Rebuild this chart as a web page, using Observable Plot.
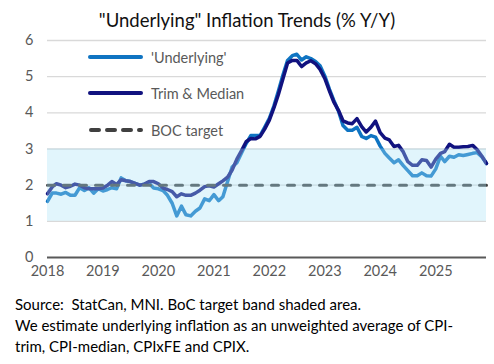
<!DOCTYPE html>
<html><head><meta charset="utf-8">
<script src="https://cdn.jsdelivr.net/npm/d3@7"></script>
<script src="https://cdn.jsdelivr.net/npm/@observablehq/plot@0.6"></script>
<style>
body{margin:0;background:#fff;font-family:Lato,"Noto Sans",sans-serif;}
#wrap{position:relative;width:494px;height:364px;overflow:hidden;background:#fff}
#title{position:absolute;top:8px;left:0;width:494px;text-align:center;font-size:18.5px;color:#111;line-height:24px}
#chart{position:absolute;top:0;left:0}
.leg{position:absolute;left:88px;height:20px;display:flex;align-items:center;font-size:14.5px;color:#595959;white-space:nowrap}
.leg svg{margin-right:5px}
#caption{position:absolute;left:15px;top:294px;font-size:15px;line-height:21px;color:#000;white-space:nowrap}
</style></head>
<body>
<div id="wrap">
  <div id="chart"></div>
  <div id="title">"Underlying" Inflation Trends (% Y/Y)</div>
  <div id="legend"></div>
  <div id="caption">Source:&nbsp; StatCan, MNI. BoC target band shaded area.<br>We estimate underlying inflation as an unweighted average of CPI-<br>trim, CPI-median, CPIxFE and CPIX.</div>
</div>
<script>
// Monthly, Jan 2018 .. Dec 2025
const underlying = [
 1.55,1.78,1.78,1.75,1.80,1.72,1.72,1.93,1.85,1.93,1.78,1.90,
 1.84,1.88,1.93,1.90,2.20,2.12,2.10,2.05,2.00,2.03,2.05,1.92,
 1.90,1.85,1.72,1.50,1.15,1.42,1.18,1.15,1.28,1.37,1.62,1.57,
 1.74,1.57,1.68,2.10,2.50,2.62,2.88,3.15,3.37,3.37,3.37,3.60,
 3.85,4.20,4.60,5.05,5.45,5.58,5.62,5.46,5.55,5.50,5.42,5.30,
 5.02,4.65,4.35,4.05,3.65,3.52,3.52,3.60,3.35,3.29,3.37,3.33,
 3.08,2.88,2.75,2.62,2.70,2.54,2.40,2.26,2.26,2.34,2.26,2.25,
 2.45,2.80,2.65,2.80,2.77,2.84,2.82,2.85,2.88,2.90,2.78,2.60
];
const trimMedian = [
 1.76,1.95,2.04,2.00,1.93,1.97,2.03,2.00,1.93,1.90,1.90,1.90,
 1.92,2.00,2.10,2.02,2.15,2.12,2.10,2.05,2.00,2.03,2.10,2.10,
 2.04,1.92,1.88,1.82,1.68,1.76,1.72,1.72,1.78,1.86,1.96,1.98,
 1.95,2.04,2.12,2.22,2.42,2.72,2.95,3.20,3.29,3.28,3.35,3.55,
 3.80,4.15,4.50,4.95,5.38,5.45,5.45,5.28,5.38,5.44,5.36,5.20,
 4.95,4.60,4.30,4.07,3.78,3.72,3.70,3.84,3.62,3.47,3.60,3.77,
 3.45,3.30,3.25,3.07,3.10,2.92,2.65,2.55,2.55,2.70,2.68,2.50,
 2.72,2.88,2.93,3.13,3.05,3.05,3.06,3.07,3.10,2.98,2.80,2.60
];
const seriesNames = ["'Underlying'", "Trim & Median", "BOC target"];
const targetRate = [2];
const targetBand = [1, 3];
const yearLabels = [2018,2019,2020,2021,2022,2023,2024,2025];
const yTicks = [0,1,2,3,4,5,6];
const colors = {u:"#0F74C2", tm:"#11127F", target:"#404040"};

const months = d3.utcMonth.range(new Date(Date.UTC(2018,0,1)), new Date(Date.UTC(2026,0,1)));
const rows = months.map((d,i)=>({date:d, u:underlying[i], tm:trimMedian[i]}));
const first = months[0], last = months[months.length-1];
const band = [{x1:first, x2:last, y1:targetBand[0], y2:targetBand[1]}];
const target = [{date:first, v:targetRate[0]}, {date:last, v:targetRate[0]}];
const yearTicks = yearLabels.map(y=>new Date(Date.UTC(y,0,1)));

const plot = Plot.plot({
  width:494, height:285,
  marginLeft:47, marginRight:8, marginTop:40, marginBottom:28,
  style:{fontFamily:'Lato,"Noto Sans",sans-serif', fontSize:"14.5px", color:"#595959", background:"transparent", overflow:"visible"},
  x:{type:"utc", domain:[first,last], ticks:yearTicks, tickFormat:d=>String(d.getUTCFullYear()), tickSize:0, tickPadding:8, label:null},
  y:{domain:[0,6], ticks:yTicks, tickFormat:d=>String(d), tickSize:0, tickPadding:14, label:null},
  marks:[
    Plot.ruleY(yTicks.filter(v=>v>0), {stroke:"#D9D9D9", strokeWidth:1.3}),
    Plot.lineY(rows, {x:"date", y:"u", stroke:colors.u, strokeWidth:3.5, strokeLinejoin:"round"}),
    Plot.lineY(rows, {x:"date", y:"tm", stroke:colors.tm, strokeWidth:3.5, strokeLinejoin:"round"}),
    Plot.line(target, {x:"date", y:"v", stroke:colors.target, strokeWidth:3, strokeDasharray:"7,9", strokeLinecap:"round"}),
    Plot.rect(band, {x1:"x1", x2:"x2", y1:"y1", y2:"y2", fill:"rgb(169,226,246)", fillOpacity:0.35}),
    Plot.ruleY([0], {stroke:"#595959", strokeWidth:2})
  ]
});
document.getElementById("chart").appendChild(plot);

const legendTops = [57, 93, 130];
const legendStrokes = [
  `<line x1="2" y1="5" x2="53" y2="5" stroke="${colors.u}" stroke-width="4" stroke-linecap="round"/>`,
  `<line x1="2" y1="5" x2="53" y2="5" stroke="${colors.tm}" stroke-width="4" stroke-linecap="round"/>`,
  `<line x1="3" y1="5" x2="53" y2="5" stroke="${colors.target}" stroke-width="4" stroke-dasharray="8,8" stroke-linecap="round"/>`
];
const leg = document.getElementById("legend");
seriesNames.forEach((name,i)=>{
  const d = document.createElement("div");
  d.className = "leg";
  d.style.top = (legendTops[i]-10) + "px";
  d.innerHTML = `<svg width="58" height="10">${legendStrokes[i]}</svg><span>${name}</span>`;
  leg.appendChild(d);
});
</script>
</body></html>
